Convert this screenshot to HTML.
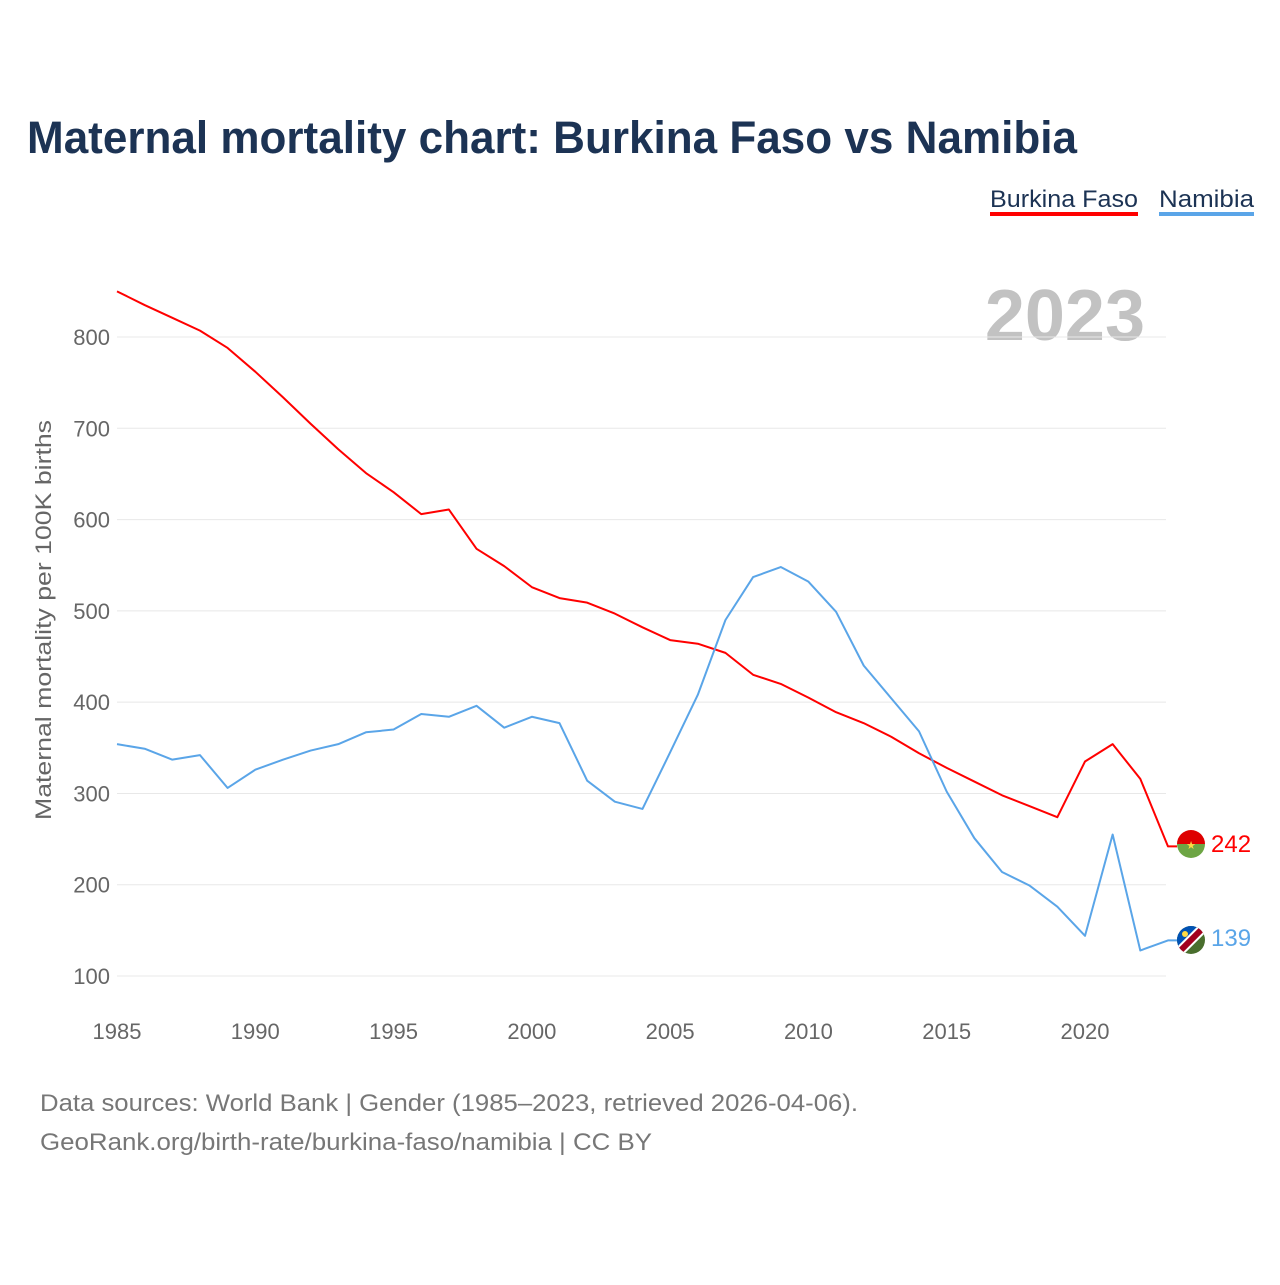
<!DOCTYPE html>
<html><head><meta charset="utf-8"><style>
body{margin:0;background:#fff;width:1280px;height:1280px;overflow:hidden;font-family:"Liberation Sans",sans-serif}
</style></head><body>
<svg width="1280" height="1280" xmlns="http://www.w3.org/2000/svg">
<defs>
<clipPath id="c1"><circle cx="1191" cy="844" r="14"/></clipPath>
<clipPath id="c2"><circle cx="1191" cy="940" r="14"/></clipPath>
</defs>
<text x="27" y="153" font-size="45" font-weight="bold" fill="#1c3354" textLength="1050" lengthAdjust="spacingAndGlyphs">Maternal mortality chart: Burkina Faso vs Namibia</text>
<g><text x="990" y="207" font-size="24" fill="#1c3354" textLength="148" lengthAdjust="spacingAndGlyphs">Burkina Faso</text><rect x="990" y="212" width="148" height="4" fill="#f00"/></g>
<g><text x="1159" y="207" font-size="24" fill="#1c3354" textLength="95" lengthAdjust="spacingAndGlyphs">Namibia</text><rect x="1159" y="212" width="95" height="4" fill="#5aa5e8"/></g>
<text x="1145" y="340" font-size="72" font-weight="bold" fill="#c2c2c2" text-anchor="end">2023</text>
<g id="grid"></g><g id="xt"></g>
<text transform="translate(51,620) rotate(-90)" font-size="22" fill="#666" text-anchor="middle" textLength="400" lengthAdjust="spacingAndGlyphs">Maternal mortality per 100K births</text>
<g id="lines"></g>
<g clip-path="url(#c1)"><rect x="1177" y="830" width="28" height="14" fill="#de0000"/><rect x="1177" y="844" width="28" height="14" fill="#6da544"/><text x="1191" y="849" font-size="11" fill="#ffda44" text-anchor="middle">★</text></g>
<g clip-path="url(#c2)"><rect x="1177" y="926" width="28" height="28" fill="#496e2d"/><polygon points="1177,926 1205,926 1177,954" fill="#0052b4"/><line x1="1177" y1="954" x2="1205" y2="926" stroke="#fff" stroke-width="10"/><line x1="1177" y1="954" x2="1205" y2="926" stroke="#a2001d" stroke-width="6"/><circle cx="1185" cy="934" r="3" fill="#ffda44"/></g>
<text x="1211" y="852" font-size="24" fill="#f00">242</text>
<text x="1211" y="946" font-size="24" fill="#5aa5e8">139</text>
<text x="40" y="1111" font-size="24" fill="#777" textLength="818" lengthAdjust="spacingAndGlyphs">Data sources: World Bank | Gender (1985–2023, retrieved 2026-04-06).</text>
<text x="40" y="1150" font-size="24" fill="#777" textLength="612" lengthAdjust="spacingAndGlyphs">GeoRank.org/birth-rate/burkina-faso/namibia | CC BY</text>
</svg>
<script>
const years=[1985,1986,1987,1988,1989,1990,1991,1992,1993,1994,1995,1996,1997,1998,1999,2000,2001,2002,2003,2004,2005,2006,2007,2008,2009,2010,2011,2012,2013,2014,2015,2016,2017,2018,2019,2020,2021,2022,2023];
const burkina=[850,835,821,807,788,762,734,705,677,651,630,606,611,568,549,526,514,509,497,482,468,464,454,430,420,405,389,377,362,344,328,313,298,286,274,335,354,316,242];
const namibia=[354,349,337,342,306,326,337,347,354,367,370,387,384,396,372,384,377,314,291,283,345,408,490,537,548,532,499,440,404,368,302,251,214,199,176,144,255,128,139];
const yTicks=[100,200,300,400,500,600,700,800];
const xTicks=[1985,1990,1995,2000,2005,2010,2015,2020];
const NS='http://www.w3.org/2000/svg';
const X=y=>117+(y-1985)*27.657, Y=v=>337+(800-v)*0.9129;
function mk(t,a,p){const e=document.createElementNS(NS,t);for(const k in a)e.setAttribute(k,a[k]);document.getElementById(p).appendChild(e);return e;}
yTicks.forEach(v=>{
 const l=mk('line',{x1:117,x2:1166,y1:Y(v),y2:Y(v),stroke:'#e8e8e8','stroke-width':1},'grid');
 
 
 const t=mk('text',{x:110,y:Y(v)+8,'font-size':22,fill:'#666','text-anchor':'end'},'grid');t.textContent=v;
 
 
});
xTicks.forEach(v=>{
 const t=mk('text',{x:X(v),y:1039,'font-size':22,fill:'#666','text-anchor':'middle'},'xt');t.textContent=v;
 
 
});
function line(d,c,n){
 const p=mk('polyline',{points:d.map((v,i)=>X(years[i])+','+Y(v)).join(' ')+' '+(1177)+','+Y(d[d.length-1]),fill:'none',stroke:c,'stroke-width':2,'stroke-linejoin':'round'},'lines');
 
 
}
line(burkina,'#f00','line-burkina-faso');
line(namibia,'#5aa5e8','line-namibia');
</script>
</body></html>
